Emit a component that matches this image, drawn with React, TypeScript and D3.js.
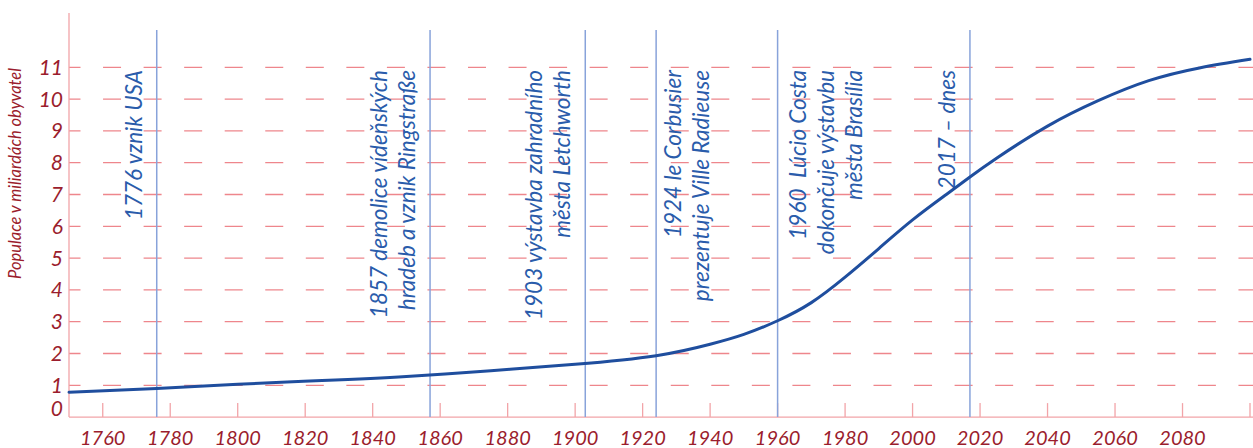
import React from "react";
import * as d3 from "d3";

// světová populace (mld.)
const years = [1750, 1776, 1800, 1825, 1850, 1875, 1900, 1924, 1940, 1950, 1960, 1970, 1980, 1990, 2000, 2010, 2017, 2025, 2040, 2055, 2070, 2085, 2100];
const population = [0.78, 0.9, 1.03, 1.15, 1.28, 1.46, 1.66, 1.93, 2.29, 2.6, 3.03, 3.6, 4.4, 5.3, 6.2, 7.0, 7.55, 8.15, 9.15, 9.95, 10.58, 10.98, 11.25];

const yTicks = [0, 1, 2, 3, 4, 5, 6, 7, 8, 9, 10, 11];
const xTicks = [1760, 1780, 1800, 1820, 1840, 1860, 1880, 1900, 1920, 1940, 1960, 1980, 2000, 2020, 2040, 2060, 2080, 2100];
const xTickLabels = ["1760", "1780", "1800", "1820", "1840", "1860", "1880", "1900", "1920", "1940", "1960", "1980", "2000", "2020", "2040", "2060", "2080"];

const eventYears = [1776, 1857, 1903, 1924, 1960, 2017];
const eventLabels = [
  ["1776 vznik USA"],
  ["1857 demolice vídeňských", "hradeb a vznik Ringstraße"],
  ["1903 výstavba zahradního", "města Letchworth"],
  ["1924 le Corbusier", "prezentuje Ville Radieuse"],
  ["1960  Lúcio Costa", "dokončuje výstavbu", "města Brasília"],
  ["2017 – dnes"],
];

const yTitle = "Populace v miliardách obyvatel";

const W = 1253;
const H = 448;
const red = "#9b1d2d";
const axisPink = "#f2a4a8";
const gridPink = "#ee868c";
const blue = "#1f4e9e";
const eventLine = "#88a3da";
const eventText = "#2a5cab";
const font = "Lato, 'Open Sans', sans-serif";

// odsazení textu událostí od svislé čáry (kladné = vpravo)
const rightOffset: Record<number, number> = { 1924: 25, 1960: 28 };

const App = () => {
  const x = d3.scaleLinear().domain([1750, 2100]).range([69, 1250]);
  const y = d3.scaleLinear().domain([0, 11]).range([417.1, 67.3]);

  const line = d3
    .line<number>()
    .x((_, i) => x(years[i]))
    .y((d) => y(d))
    .curve(d3.curveNatural);

  return (
    <svg
      width={W}
      height={H}
      style={{ position: "absolute", left: 0, top: 0, display: "block", background: "#fff" }}
      fontFamily={font}
    >
      {/* vodorovná mřížka */}
      {yTicks.slice(1).map((t) => (
        <line
          key={"g" + t}
          x1={x(1750)}
          x2={W}
          y1={y(t)}
          y2={y(t)}
          stroke={gridPink}
          strokeWidth={1.3}
          strokeDasharray="18 22.55"
          strokeDashoffset={6.5}
        />
      ))}

      {/* osy */}
      <line x1={x(1750)} x2={x(1750)} y1={13} y2={y(0)} stroke={axisPink} strokeWidth={1.3} />
      <line x1={x(1750)} x2={W} y1={y(0)} y2={y(0)} stroke={axisPink} strokeWidth={1.3} />
      {xTicks.map((t) => (
        <line key={"t" + t} x1={x(t)} x2={x(t)} y1={y(0)} y2={y(0) - 14} stroke={axisPink} strokeWidth={1.3} />
      ))}

      {/* popisky osy y */}
      {yTicks.map((t) => (
        <text
          key={"yl" + t}
          x={63}
          y={t === 0 ? y(0) - 9 : y(t)}
          dy="0.36em"
          textAnchor="end"
          fontSize={21}
          fontStyle="italic"
          fill={red}
        >
          {t}
        </text>
      ))}
      <text
        transform={`translate(20.5,173.5) rotate(-90)`}
        textAnchor="middle"
        fontSize={16.5}
        fontStyle="italic"
        fill={red}
      >
        {yTitle}
      </text>

      {/* popisky osy x */}
      {xTickLabels.map((l) => (
        <text
          key={"xl" + l}
          x={x(+l)}
          y={444.5}
          textAnchor="middle"
          fontSize={20}
          fontStyle="italic"
          fill={red}
        >
          {l}
        </text>
      ))}

      {/* události */}
      {eventYears.map((yr, i) => {
        const ex = x(yr);
        const lines = eventLabels[i];
        const right = rightOffset[yr];
        return (
          <g key={"e" + yr}>
            <line x1={ex} x2={ex} y1={30} y2={y(0)} stroke={eventLine} strokeWidth={1.5} />
            {lines.map((s, j) => {
              const bx = right !== undefined ? ex + right + j * 28 : ex - 15 - (lines.length - 1 - j) * 28;
              return (
                <text
                  key={j}
                  transform={`translate(${bx},70) rotate(-90)`}
                  textAnchor="end"
                  fontSize={22.5}
                  fontStyle="italic"
                  fill={eventText}
                  style={{ whiteSpace: "pre" }}
                >
                  {s}
                </text>
              );
            })}
          </g>
        );
      })}

      {/* křivka populace */}
      <path d={line(population) || ""} fill="none" stroke={blue} strokeWidth={3} strokeLinecap="round" />
    </svg>
  );
};

export default App;
